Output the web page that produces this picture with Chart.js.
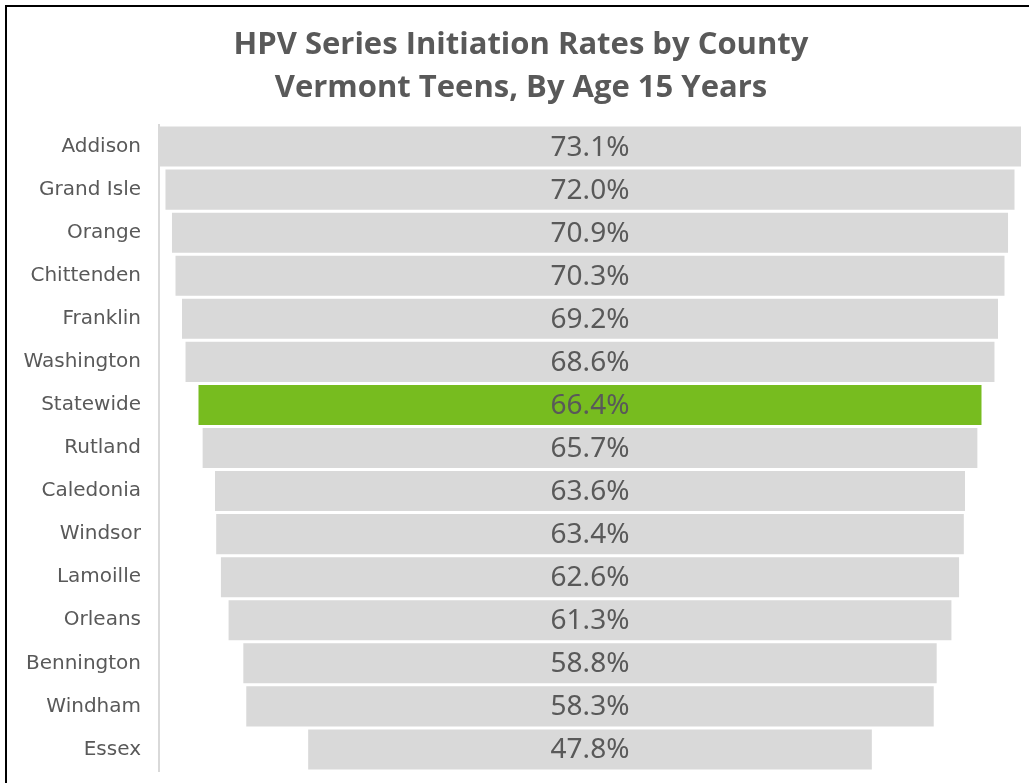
<!DOCTYPE html>
<html>
<head>
<meta charset="utf-8">
<script src="https://cdn.jsdelivr.net/npm/chart.js@4"></script>
<style>
  html, body { margin: 0; padding: 0; background: #fff; overflow: hidden; }
  #wrap { position: relative; width: 1029px; height: 783px; }
  #frame { position: absolute; left: 5px; top: 5px; width: 1100px; height: 900px; border: 2px solid #000; box-sizing: border-box; pointer-events: none; }
  canvas { position: absolute; left: 0; top: 0; }
</style>
</head>
<body>
<div id="wrap">
  <canvas id="chart" width="1029" height="783"></canvas>
  <div id="frame"></div>
</div>
<script>
// counties, top to bottom
const counties = ['Addison', 'Grand Isle', 'Orange', 'Chittenden', 'Franklin', 'Washington', 'Statewide',
  'Rutland', 'Caledonia', 'Windsor', 'Lamoille', 'Orleans', 'Bennington', 'Windham', 'Essex'];
// initiation rate, percent
const rates = [73.1, 72.0, 70.9, 70.3, 69.2, 68.6, 66.4, 65.7, 63.6, 63.4, 62.6, 61.3, 58.8, 58.3, 47.8];
const titleLines = ['HPV Series Initiation Rates by County', 'Vermont Teens, By Age 15 Years'];

// funnel: each bar is centred on half of the largest value
const maxRate = Math.max(...rates);
const mid = maxRate / 2;
const spans = rates.map(v => [mid - v / 2, mid + v / 2]);
const colors = counties.map(c => c === 'Statewide' ? '#77bc1f' : '#d9d9d9');

// two-line title, sits a little right of the canvas centre like the original
const chartTitle = {
  id: 'chartTitle',
  afterDraw(chart) {
    const ctx = chart.ctx;
    ctx.save();
    ctx.font = 'bold 31px "Open Sans", sans-serif';
    ctx.fillStyle = '#595959';
    ctx.textAlign = 'center';
    ctx.textBaseline = 'alphabetic';
    ctx.fillText(titleLines[0], 521, 54);
    ctx.fillText(titleLines[1], 521, 97);
    ctx.restore();
  }
};

const valueLabels = {
  id: 'valueLabels',
  afterDatasetsDraw(chart) {
    const ctx = chart.ctx;
    const meta = chart.getDatasetMeta(0);
    ctx.save();
    ctx.font = '28px "Noto Sans", sans-serif';
    ctx.fillStyle = '#595959';
    ctx.textAlign = 'center';
    ctx.textBaseline = 'middle';
    meta.data.forEach((bar, i) => {
      const cx = (bar.x + bar.base) / 2;
      ctx.fillText(rates[i].toFixed(1) + '%', cx, bar.y + 1);
    });
    ctx.restore();
  }
};

new Chart(document.getElementById('chart'), {
  type: 'bar',
  data: {
    labels: counties,
    datasets: [{
      data: spans,
      backgroundColor: colors,
      borderWidth: 0,
      barPercentage: 1,
      categoryPercentage: 0.93
    }]
  },
  options: {
    indexAxis: 'y',
    responsive: false,
    animation: false,
    layout: { padding: { left: 0, right: 8, top: 125, bottom: 12 } },
    plugins: {
      legend: { display: false },
      tooltip: { enabled: false },
      title: { display: false }
    },
    scales: {
      x: { display: false, min: 0, max: maxRate },
      y: {
        afterFit(scale) {
          scale.width = 159;
          scale.paddingTop = 0;
          scale.paddingBottom = 0;
        },
        grid: { display: false, drawTicks: false },
        border: { display: true, color: '#d9d9d9', width: 2 },
        ticks: {
          color: '#595959',
          padding: 18,
          font: { family: '"DejaVu Sans", Verdana, sans-serif', size: 20 }
        }
      }
    }
  },
  plugins: [valueLabels, chartTitle]
});
</script>
</body>
</html>
